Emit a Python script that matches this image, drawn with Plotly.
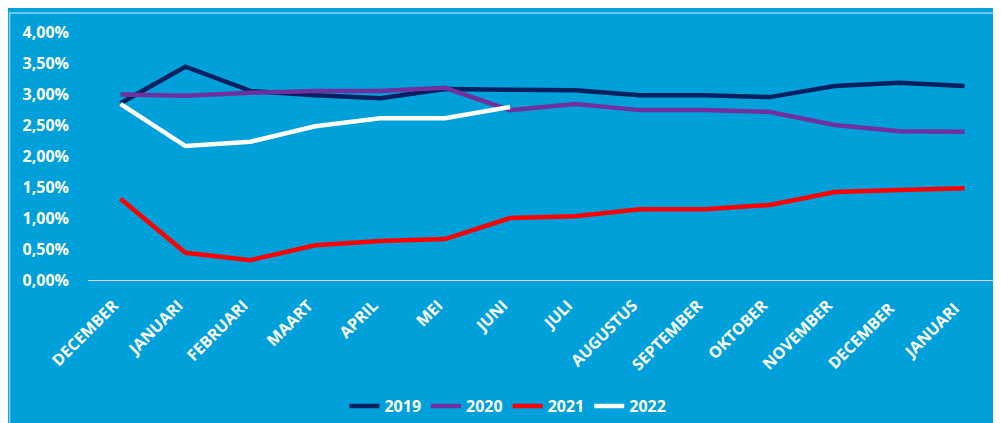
import plotly.graph_objects as go

months = ["DECEMBER", "JANUARI", "FEBRUARI", "MAART", "APRIL", "MEI", "JUNI",
          "JULI", "AUGUSTUS", "SEPTEMBER", "OKTOBER", "NOVEMBER", "DECEMBER ", "JANUARI "]
y2019 = [2.85, 3.44, 3.05, 2.98, 2.93, 3.08, 3.07, 3.06, 2.98, 2.98, 2.95, 3.13, 3.18, 3.13]
y2020 = [2.99, 2.97, 3.02, 3.05, 3.05, 3.10, 2.74, 2.84, 2.74, 2.74, 2.71, 2.50, 2.40, 2.39]
y2021 = [1.31, 0.44, 0.32, 0.56, 0.63, 0.66, 1.00, 1.03, 1.14, 1.14, 1.21, 1.42, 1.45, 1.48]
y2022 = [2.84, 2.16, 2.23, 2.48, 2.61, 2.61, 2.79]

series = [("2019", y2019, "#002060"), ("2020", y2020, "#7030A0"),
          ("2021", y2021, "#FF0000"), ("2022", y2022, "#FFFFFF")]

bg = "rgb(0,160,218)"
fam = "Open Sans, Liberation Sans, sans-serif"
fig = go.Figure()
for name, vals, col in series:
    fig.add_trace(go.Scatter(
        x=months[:len(vals)], y=[v / 100 for v in vals], name=name, mode="lines",
        line=dict(color=col, width=4.5), hoverinfo="skip"))

# page has an 8px body margin: figure is offset by (8, 8)
fig.update_layout(
    width=993, height=415,
    margin=dict(l=79.5, r=3.5, t=24, b=143, autoexpand=False),
    paper_bgcolor=bg, plot_bgcolor=bg,
    separators=",.",
    font=dict(family=fam, color="white", size=16, weight="bold"),
    showlegend=True,
    legend=dict(orientation="h", x=0.462, xanchor="center", y=-0.508, yanchor="middle",
                font=dict(family=fam, color="white", size=16, weight="bold"),
                bgcolor="rgba(0,0,0,0)", itemwidth=30, tracegroupgap=0),
    xaxis=dict(type="category", range=[-0.5, 13.5], showgrid=False, showline=True,
               linecolor="#D9D9D9", linewidth=1, tickangle=-45, ticks="", automargin=False,
               ticklabelstandoff=9, ticklabelshift=-7,
               tickfont=dict(family=fam, color="white", size=16, weight="bold"),
               zeroline=False),
    yaxis=dict(range=[0, 0.04], dtick=0.005, tickformat=".2%", showgrid=False,
               zeroline=False, showline=False, ticks="", ticklabelstandoff=18, automargin=False,
               tickfont=dict(family=fam, color="white", size=16, weight="bold")),
    shapes=[dict(type="rect", xref="paper", yref="paper",
                 x0=(9 - 87.5) / 910, x1=1.02, y0=-0.7, y1=(280 - 13) / 248,
                 line=dict(color="rgba(255,255,255,0.55)", width=1.5), fillcolor="rgba(0,0,0,0)",
                 layer="below")],
)
fig.write_html("out.html")
